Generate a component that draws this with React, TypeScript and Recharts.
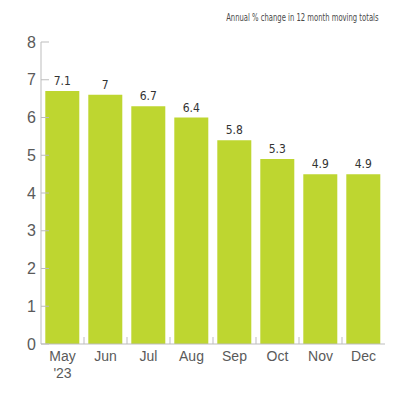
import { Bar, BarChart, LabelList, XAxis, YAxis } from "recharts";

const BAR = "#bed630";
const AXIS = "#bdbdbd";
const TEXT = "#5a5a5a";
const CONDENSED = "'DejaVu Sans Condensed', 'Liberation Sans Narrow', sans-serif";
const PLAIN = "'Liberation Sans', Arial, sans-serif";

const months = ["May '23", "Jun", "Jul", "Aug", "Sep", "Oct", "Nov", "Dec"];
// printed value labels
const labels = ["7.1", "7", "6.7", "6.4", "5.8", "5.3", "4.9", "4.9"];
// bar heights as drawn in the source chart
const heights = [6.7, 6.6, 6.3, 6.0, 5.4, 4.9, 4.5, 4.5];
const yTicks = [0, 1, 2, 3, 4, 5, 6, 7, 8];

const data = months.map((m, i) => ({ month: m, height: heights[i], label: labels[i] }));

const MonthTick = (props: any) => {
  const { x, y, payload, index } = props;
  const parts = String(payload.value).split(" ");
  const step = 43;
  return (
    <g>
      {index > 0 && (
        <line x1={x - step / 2} x2={x - step / 2} y1={344} y2={337} stroke={AXIS} />
      )}
      <text x={x} y={y} textAnchor="middle" fill={TEXT} fontSize={14} fontFamily={PLAIN}>
        {parts.map((p, i) => (
          <tspan key={i} x={x} dy={i === 0 ? 9 : 17}>
            {p}
          </tspan>
        ))}
      </text>
    </g>
  );
};

export default function App() {
  return (
    <div style={{ position: "absolute", left: 0, top: 0, width: 400, height: 400, background: "#fff" }}>
      <div
        style={{
          position: "absolute",
          right: 21,
          top: 12,
          fontFamily: CONDENSED,
          fontSize: 10,
          color: "#4a4a4a",
          whiteSpace: "nowrap",
          transform: "scaleX(0.76)",
          transformOrigin: "right center",
        }}
      >
        Annual % change in 12 month moving totals
      </div>
      <BarChart
        width={400}
        height={400}
        data={data}
        margin={{ top: 42, right: 15, bottom: 20, left: 0 }}
        barCategoryGap="10%"
      >
        <YAxis
          domain={[0, 8]}
          ticks={yTicks}
          width={41}
          tickSize={-8}
          tickMargin={13}
          axisLine={{ stroke: AXIS }}
          tickLine={{ stroke: AXIS }}
          tick={{ fill: TEXT, fontSize: 16, fontFamily: PLAIN }}
          interval={0}
        />
        <XAxis
          dataKey="month"
          height={36}
          axisLine={{ stroke: AXIS }}
          tickLine={false}
          tick={<MonthTick />}
          interval={0}
        />
        <Bar dataKey="height" fill={BAR} isAnimationActive={false}>
          <LabelList
            dataKey="label"
            position="top"
            offset={6}
            fill="#333"
            fontSize={12}
            fontFamily={CONDENSED}
          />
        </Bar>
      </BarChart>
    </div>
  );
}
